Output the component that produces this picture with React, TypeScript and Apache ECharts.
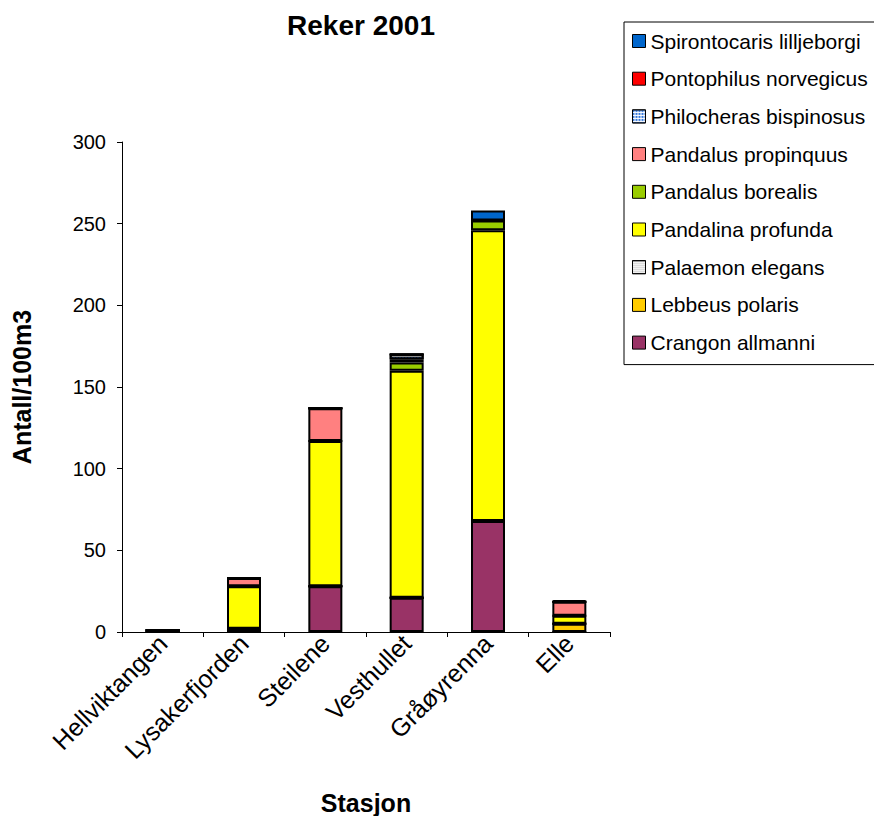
import React, { useEffect, useRef } from "react";
import * as echarts from "echarts";

const categories = ["Hellviktangen", "Lysakerfjorden", "Steilene", "Vesthullet", "Gråøyrenna", "Elle"];
const yTicks = [0, 50, 100, 150, 200, 250, 300];

const crangonAllmanni = [0, 2, 28, 21, 68, 0];
const lebbeusPolaris = [0, 0, 0, 0, 0, 5];
const palaemonElegans = [0, 0, 0, 0, 0, 0];
const pandalinaProfunda = [1, 26, 89, 139, 178, 5];
const pandalusBorealis = [0, 0, 0, 5, 6, 0];
const pandalusPropinquus = [0, 5, 20, 2, 0, 8.5];
const philocherasBispinosus = [0, 0, 0, 3, 0, 0];
const pontophilusNorvegicus = [0, 0, 0, 0, 0, 0];
const spirontocarisLilljeborgi = [0, 0, 0, 0, 6, 1];

const seriesDefs = [
  { name: "Crangon allmanni", data: crangonAllmanni, color: "#993366" },
  { name: "Lebbeus polaris", data: lebbeusPolaris, color: "#FFCC00" },
  { name: "Palaemon elegans", data: palaemonElegans, color: "#FFFFFF", decal: { symbol: "rect", symbolSize: 1, color: "#999999", dashArrayX: [1, 1], dashArrayY: [1, 1] } },
  { name: "Pandalina profunda", data: pandalinaProfunda, color: "#FFFF00" },
  { name: "Pandalus borealis", data: pandalusBorealis, color: "#99CC00" },
  { name: "Pandalus propinquus", data: pandalusPropinquus, color: "#FF8080" },
  { name: "Philocheras bispinosus", data: philocherasBispinosus, color: "#FFFFFF", decal: { symbol: "rect", symbolSize: 1, color: "#3377dd", dashArrayX: [2, 1], dashArrayY: [2, 1] } },
  { name: "Pontophilus norvegicus", data: pontophilusNorvegicus, color: "#FF0000" },
  { name: "Spirontocaris lilljeborgi", data: spirontocarisLilljeborgi, color: "#0066CC" },
];

const FONT = "'Liberation Sans', Arial, sans-serif";

export default function App() {
  const ref = useRef<HTMLDivElement>(null);
  useEffect(() => {
    if (!ref.current) return;
    const chart = echarts.init(ref.current, undefined, { renderer: "svg" });
    chart.setOption({
      animation: false,
      backgroundColor: "#ffffff",
      textStyle: { fontFamily: FONT },
      title: {
        text: "Reker 2001",
        left: 356,
        top: 6,
        textAlign: "center",
        textStyle: { fontFamily: FONT, fontSize: 28, fontWeight: "bold", color: "#000" },
      },
      legend: {
        orient: "vertical",
        left: 624,
        top: 22,
        data: seriesDefs.map((s) => s.name).reverse(),
        icon: "rect",
        itemWidth: 13,
        itemHeight: 13,
        itemGap: 13.7,
        padding: [7, 30, 10, 8],
        backgroundColor: "#ffffff",
        borderColor: "#000000",
        borderWidth: 1,
        borderRadius: 0,
        selectedMode: false,
        itemStyle: { borderColor: "#000", borderWidth: 1 },
        textStyle: { fontFamily: FONT, fontSize: 21, color: "#000", lineHeight: 24 },
      },
      grid: { left: 122, right: 900 - 610, top: 142, bottom: 816 - 632, containLabel: false, outerBoundsMode: "none" },
      xAxis: {
        type: "category",
        data: categories,
        name: "Stasjon",
        nameLocation: "middle",
        nameGap: 158,
        nameTextStyle: { fontFamily: FONT, fontSize: 25, fontWeight: "bold", color: "#000" },
        axisLine: { lineStyle: { color: "#000", width: 1 } },
        axisTick: { show: true, length: 5, lineStyle: { color: "#000" } },
        axisLabel: { rotate: 45, fontFamily: FONT, fontSize: 25, color: "#000", margin: 7, interval: 0 },
        splitLine: { show: false },
      },
      yAxis: {
        type: "value",
        min: yTicks[0],
        max: yTicks[yTicks.length - 1],
        interval: 50,
        name: "Antall/100m3",
        nameLocation: "middle",
        nameRotate: 90,
        nameGap: 88,
        nameTextStyle: { fontFamily: FONT, fontSize: 25, fontWeight: "bold", color: "#000" },
        axisLine: { show: true, lineStyle: { color: "#000", width: 1 } },
        axisTick: { show: true, inside: false, length: 5, lineStyle: { color: "#000" } },
        axisLabel: { fontFamily: FONT, fontSize: 20, color: "#000", margin: 16 },
        splitLine: { show: false },
      },
      series: seriesDefs.map((s) => ({
        name: s.name,
        type: "bar",
        stack: "total",
        data: s.data,
        barWidth: 34,
        itemStyle: { color: s.color, borderColor: "#000", borderWidth: 2, ...(s.decal ? { decal: s.decal } : {}) },
      })),
    });
    return () => chart.dispose();
  }, []);
  return (
    <div style={{ position: "fixed", left: 0, top: 0, width: 874, height: 816, overflow: "hidden", background: "#fff" }}>
      <div ref={ref} style={{ width: 900, height: 816 }} />
    </div>
  );
}
